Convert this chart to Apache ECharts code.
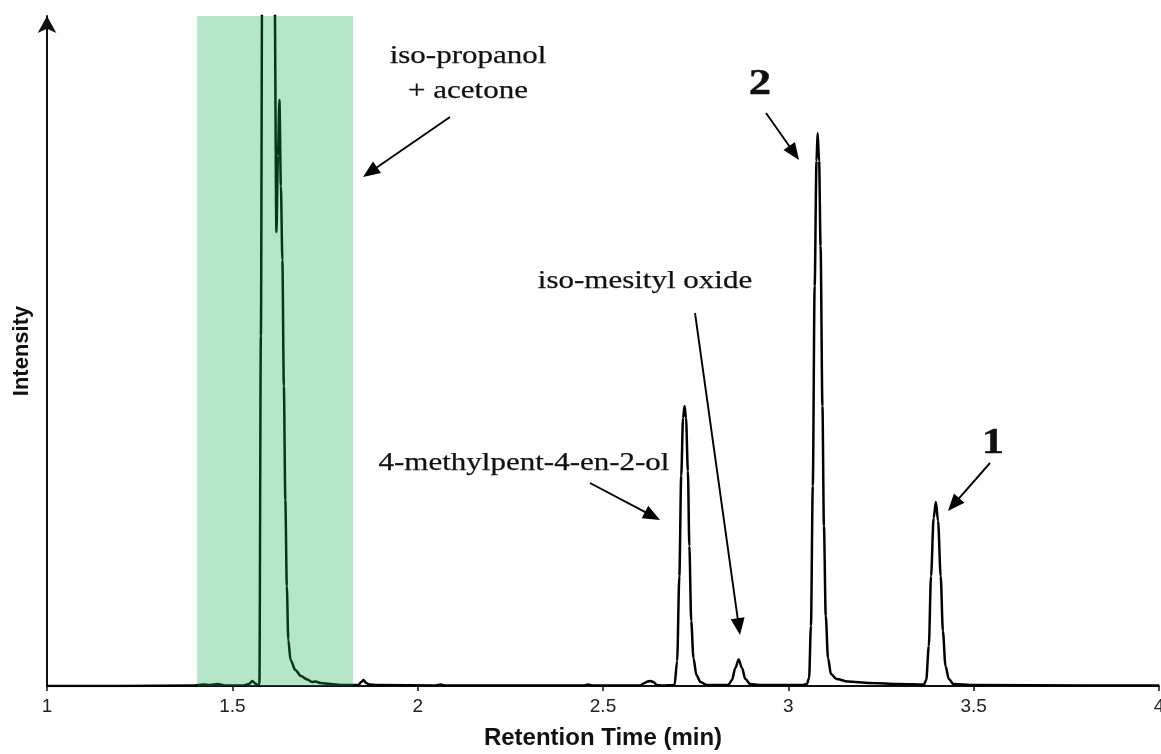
<!DOCTYPE html>
<html>
<head>
<meta charset="utf-8">
<script src="https://cdn.jsdelivr.net/npm/echarts@6/dist/echarts.min.js"></script>
<style>
  html, body { margin: 0; padding: 0; background: #fff; }
  #chart { width: 1161px; height: 754px; }
</style>
</head>
<body>
<div id="chart"></div>
<script>
// chromatogram (time in min, intensity in arbitrary units)
const retentionTime = [
  1.000, 1.200, 1.400, 1.420, 1.440, 1.460, 1.480, 1.530, 1.545, 1.554, 1.562, 1.569,
  1.573, 1.577, 1.581, 1.590, 1.600, 1.608, 1.614, 1.619, 1.623, 1.627, 1.631, 1.635,
  1.639, 1.643, 1.647, 1.651, 1.657, 1.670, 1.685, 1.702, 1.715, 1.724, 1.738, 1.765,
  1.792, 1.840, 1.848, 1.854, 1.861, 1.870, 1.890, 2.050, 2.061, 2.072, 2.450, 2.460,
  2.470, 2.600, 2.612, 2.620, 2.628, 2.636, 2.645, 2.660, 2.693, 2.700, 2.706, 2.711,
  2.716, 2.720, 2.724, 2.729, 2.733, 2.738, 2.744, 2.752, 2.763, 2.780, 2.838, 2.848,
  2.857, 2.866, 2.875, 2.884, 2.897, 2.920, 3.040, 3.050, 3.056, 3.061, 3.066, 3.071,
  3.076, 3.079, 3.083, 3.087, 3.092, 3.096, 3.101, 3.107, 3.115, 3.130, 3.160, 3.220,
  3.300, 3.366, 3.372, 3.379, 3.385, 3.392, 3.398, 3.404, 3.411, 3.417, 3.424, 3.433,
  3.445, 3.500, 3.800, 4.000
];
const intensity = [
  0, 0, 0.5, 1.5, 1, 2, 0.5, 0.5, 2, 5, 2.5, 0.5,
  2, 350, 760, 1400, 1500, 1200, 700, 454, 530, 586, 500, 426,
  300, 186, 100, 46, 26, 16, 10, 6.5, 4, 4.5, 3, 2,
  1, 1, 4, 6, 3, 1.5, 1, 0.5, 1.5, 0.5, 0.5, 1.5,
  0.5, 0.5, 3, 4.5, 5, 4, 1, 0.5, 1, 25, 110, 210,
  268, 280, 268, 215, 140, 65, 28, 11, 4, 1, 1, 6,
  18, 26.5, 18, 7, 2, 1, 1, 2, 8, 60, 200, 400,
  525, 553, 525, 440, 280, 160, 70, 28, 12, 7, 4.5, 3,
  2, 1.5, 6, 40, 110, 168, 184, 165, 110, 55, 20, 7,
  2, 1, 0.5, 0.5
];
const xTicks = [1, 1.5, 2, 2.5, 3, 3.5, 4];
const solventWindow = [[1.405, 1.826]];
const yMax = 670;

const chart = echarts.init(document.getElementById('chart'));

function arrow(x1, y1, x2, y2) {
  const dx = x2 - x1, dy = y2 - y1, len = Math.hypot(dx, dy);
  const ux = dx / len, uy = dy / len;
  const hl = 17, hw = 7;
  const bx = x2 - ux * hl, by = y2 - uy * hl;
  return [
    { type: 'line', z: 20, shape: { x1: x1, y1: y1, x2: bx + ux * 3, y2: by + uy * 3 },
      style: { stroke: '#000', lineWidth: 1.9 } },
    { type: 'polygon', z: 20,
      shape: { points: [[x2, y2], [bx - uy * hw, by + ux * hw], [bx + uy * hw, by - ux * hw]] },
      style: { fill: '#000' } }
  ];
}

function label(text, x, y, size, bold) {
  return {
    type: 'text', z: 20, x: x, y: y, scaleX: 1.24,
    style: {
      text: text,
      font: (bold ? 'bold ' : '') + size + 'px "Liberation Serif", "Times New Roman", serif',
      fill: '#111', stroke: '#111', lineWidth: bold ? 0.4 : 0.25,
      textAlign: 'center', textVerticalAlign: 'middle'
    }
  };
}

chart.setOption({
  animation: false,
  backgroundColor: '#fff',
  grid: { left: 47, right: 2, top: 16, bottom: 68, outerBoundsMode: 'none' },
  xAxis: {
    type: 'value',
    min: xTicks[0],
    max: xTicks[xTicks.length - 1],
    interval: 0.5,
    name: 'Retention Time (min)',
    nameLocation: 'middle',
    nameGap: 40,
    nameTextStyle: { fontFamily: '"Liberation Sans", Arial', fontWeight: 'bold', fontSize: 24, color: '#111' },
    axisLine: { lineStyle: { color: '#111', width: 2 } },
    axisTick: { length: 5, lineStyle: { color: '#111', width: 1.5 } },
    axisLabel: { fontFamily: '"Liberation Sans", Arial', fontSize: 19, color: '#222', margin: 11 },
    splitLine: { show: false }
  },
  yAxis: {
    type: 'value',
    min: 0,
    max: yMax,
    name: 'Intensity',
    nameLocation: 'middle',
    nameGap: 14,
    nameTextStyle: { fontFamily: '"Liberation Sans", Arial', fontWeight: 'bold', fontSize: 22, color: '#111' },
    axisLine: { show: true, symbol: ['none', 'arrow'], symbolSize: [14, 17], lineStyle: { color: '#111', width: 2 } },
    axisTick: { show: false },
    axisLabel: { show: false },
    splitLine: { show: false }
  },
  series: [
    {
      type: 'line',
      data: retentionTime.map((t, i) => [t, intensity[i]]),
      showSymbol: false,
      smooth: 0.3,
      smoothMonotone: 'x',
      clip: true,
      lineStyle: { color: '#000', width: 2.5 },
      z: 2
    },
    {
      // translucent solvent window laid over the trace
      type: 'custom',
      data: solventWindow,
      z: 10,
      silent: true,
      renderItem: function (params, api) {
        const p0 = api.coord([api.value(0), yMax]);
        const p1 = api.coord([api.value(1), 0]);
        return {
          type: 'rect',
          shape: { x: p0[0], y: p0[1], width: p1[0] - p0[0], height: p1[1] - p0[1] },
          style: { fill: 'rgba(16,175,79,0.31)' }
        };
      }
    }
  ],
  graphic: [
    label('iso-propanol', 468, 56, 25),
    label('+ acetone', 468, 91, 25),
    label('iso-mesityl oxide', 645, 281, 25),
    label('4-methylpent-4-en-2-ol', 524, 463, 25),
    label('2', 760, 85, 36, true),
    label('1', 993, 444, 36, true),
    ...arrow(450, 117, 363, 177),
    ...arrow(695, 313, 740, 635),
    ...arrow(590, 483, 660, 520),
    ...arrow(766, 113, 799, 160),
    ...arrow(990, 463, 948, 511)
  ]
});
</script>
</body>
</html>
